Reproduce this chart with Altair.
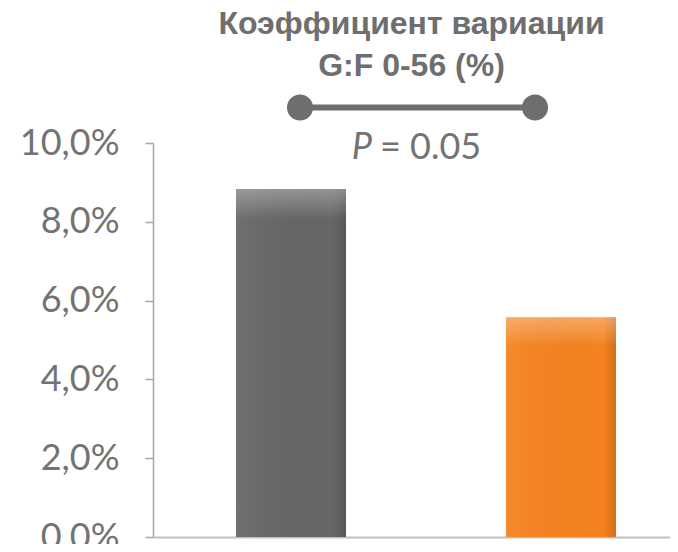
import altair as alt
import pandas as pd

categories = ["Группа 1", "Группа 2"]
values = [8.83, 5.58]
bar_colors = ["#666666", "#F5821F"]
y_ticks = [0, 2, 4, 6, 8, 10]
title_lines = ["Коэффициент вариации", "G:F 0-56 (%)"]
p_symbol = "P"
p_rest = "= 0.05"
bracket_level = 10.9
p_level = 9.87

df = pd.DataFrame({"cat": categories, "value": values})
bracket_df = pd.DataFrame({"a": [categories[0]], "b": [categories[1]], "y": [bracket_level]})
left_df = pd.DataFrame({"cat": [categories[0]], "y": [bracket_level]})
right_df = pd.DataFrame({"cat": [categories[1]], "y": [bracket_level]})
p_df = pd.DataFrame({"cat": [categories[0]], "y": [p_level]})

GRAY = "#6E6E6E"
AX = "#A6A6A6"
LBL = "#737373"

xscale = alt.Scale(domain=categories, paddingInner=0.5926, paddingOuter=0.2537, align=0.606)
yscale = alt.Scale(domain=[0, 10])

x_enc = alt.X("cat:N", scale=xscale,
              axis=alt.Axis(labels=False, ticks=False, title=None,
                            domainColor="#BFBFBF", domainWidth=2))
y_enc = alt.Y("value:Q", scale=yscale,
              axis=alt.Axis(values=y_ticks, title=None, grid=False,
                            labelExpr="replace(format(datum.value, '.1f'), '.', ',') + '%'",
                            labelFont="Lato", labelFontSize=36, labelColor=LBL,
                            labelPadding=26, tickSize=8, tickColor=AX,
                            domainColor=AX, domainWidth=1.5, tickWidth=1.5))

bars = alt.Chart(df).mark_bar().encode(
    x=x_enc,
    y=y_enc,
    color=alt.Color("cat:N", scale=alt.Scale(domain=categories, range=bar_colors), legend=None),
)

side_shade = alt.Chart(df).mark_bar(
    color=alt.Gradient(gradient="linear", x1=0, y1=0, x2=1, y2=0, stops=[
        alt.GradientStop(color="rgba(255,255,255,0.06)", offset=0),
        alt.GradientStop(color="rgba(0,0,0,0)", offset=0.88),
        alt.GradientStop(color="rgba(0,0,0,0.14)", offset=1),
    ])
).encode(x="cat:N", y="value:Q")

bevel = alt.Chart(df).transform_calculate(low="datum.value - 0.75").mark_bar(
    color=alt.Gradient(gradient="linear", x1=0, y1=0, x2=0, y2=1, stops=[
        alt.GradientStop(color="rgba(255,255,255,0.30)", offset=0),
        alt.GradientStop(color="rgba(255,255,255,0.0)", offset=1),
    ])
).encode(x="cat:N", y="value:Q", y2="low:Q")

bracket = alt.Chart(bracket_df).mark_rule(strokeWidth=6, color=GRAY, xOffset=9, x2Offset=-26).encode(
    x=alt.X("a:N", scale=xscale), x2="b:N", y=alt.Y("y:Q", scale=yscale)
)
dot_l = alt.Chart(left_df).mark_circle(size=680, color=GRAY, opacity=1, xOffset=9).encode(
    x=alt.X("cat:N", scale=xscale), y=alt.Y("y:Q", scale=yscale)
)
dot_r = alt.Chart(right_df).mark_circle(size=680, color=GRAY, opacity=1, xOffset=-26).encode(
    x=alt.X("cat:N", scale=xscale), y=alt.Y("y:Q", scale=yscale)
)
p_italic = alt.Chart(p_df).mark_text(text=p_symbol, font="Lato", fontSize=36, fontStyle="italic",
                                      color=LBL, align="right", baseline="middle", dx=81).encode(
    x=alt.X("cat:N", scale=xscale), y=alt.Y("y:Q", scale=yscale)
)
p_value = alt.Chart(p_df).mark_text(text=p_rest, font="Lato", fontSize=36,
                                     color=LBL, align="left", baseline="middle", dx=89).encode(
    x=alt.X("cat:N", scale=xscale), y=alt.Y("y:Q", scale=yscale)
)

chart = alt.layer(bars, side_shade, bevel, bracket, dot_l, dot_r, p_italic, p_value).properties(
    width=517, height=394,
    title=alt.TitleParams(text=title_lines, font="Liberation Sans", fontSize=32, fontWeight="bold",
                          color=GRAY, anchor="middle", offset=12, lineHeight=42),
    autosize=alt.AutoSizeParams(type="none"),
    padding={"left": 145, "top": 135, "right": 0, "bottom": 7},
).configure_view(stroke=None, clip=False)

chart.save("out.html", embed_options={"renderer": "svg", "actions": False})
